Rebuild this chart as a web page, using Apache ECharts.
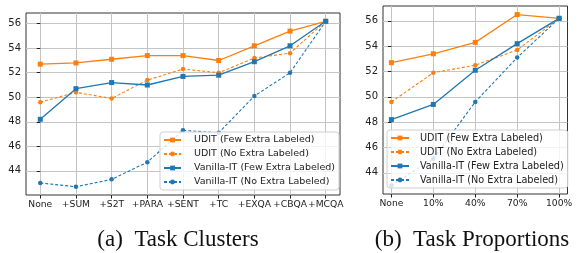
<!DOCTYPE html>
<html>
<head>
<meta charset="utf-8">
<script src="https://cdn.jsdelivr.net/npm/echarts@6/dist/echarts.min.js"></script>
<style>
  html, body { margin: 0; padding: 0; background: #fff; }
  #main { width: 580px; height: 253px; }
</style>
</head>
<body>
<div id="main"></div>
<script>
// (a) task clusters
const clusterCats = ['None', '+SUM', '+S2T', '+PARA', '+SENT', '+TC', '+EXQA', '+CBQA', '+MCQA']
const clusterUditFew = [52.7, 52.8, 53.1, 53.4, 53.4, 53.0, 54.2, 55.4, 56.2]
const clusterUditNo = [49.6, 50.4, 49.9, 51.4, 52.3, 52.0, 53.2, 53.6, 56.2]
const clusterVanillaFew = [48.2, 50.7, 51.2, 51.0, 51.7, 51.8, 52.9, 54.2, 56.2]
const clusterVanillaNo = [43.0, 42.7, 43.3, 44.7, 47.3, 47.1, 50.1, 52.0, 56.2]

// (b) task proportions
const propCats = ['None', '10%', '40%', '70%', '100%']
const propUditFew = [52.7, 53.4, 54.3, 56.5, 56.2]
const propUditNo = [49.6, 51.9, 52.5, 53.7, 56.2]
const propVanillaFew = [48.2, 49.4, 52.1, 54.2, 56.2]
const propVanillaNo = [43.0, 45.1, 49.6, 53.1, 56.2]

const yTicks = [44, 46, 48, 50, 52, 54, 56]
const names = ['UDIT (Few Extra Labeled)', 'UDIT (No Extra Labeled)', 'Vanilla-IT (Few Extra Labeled)', 'Vanilla-IT (No Extra Labeled)']

const ORANGE = '#ff7f0e'
const BLUE = '#1f77b4'
const tickFont = 'DejaVu Sans'

// matplotlib style 5% margins
function padExtent (lists) {
  let lo = Infinity
  let hi = -Infinity
  for (let l of lists) {
    for (let v of l) {
      lo = Math.min(lo, v)
      hi = Math.max(hi, v)
    }
  }
  let m = (hi - lo) * 0.05
  return [lo - m, hi + m]
}

function xAxis (idx, cats) {
  let ticks = cats.map((c, i) => i)
  let m = (cats.length - 1) * 0.05
  return {
    type: 'value',
    gridIndex: idx,
    min: -m,
    max: cats.length - 1 + m,
    axisLine: { show: false },
    axisTick: { show: true, inside: false, length: 3.5, customValues: ticks, lineStyle: { color: '#222', width: 1 } },
    axisLabel: {
      customValues: ticks,
      formatter: (v) => cats[Math.round(v)],
      fontFamily: tickFont,
      fontSize: 9.2,
      color: '#222',
      margin: 5,
      interval: 0,
      hideOverlap: false,
      showMinLabel: true,
      showMaxLabel: true
    },
    splitLine: { show: true, lineStyle: { color: '#c4c4c4', width: 1 } }
  }
}

function yAxis (idx, ext) {
  return {
    type: 'value',
    gridIndex: idx,
    min: ext[0],
    max: ext[1],
    axisLine: { show: false },
    axisTick: { show: true, inside: false, length: 3.5, customValues: yTicks, lineStyle: { color: '#222', width: 1 } },
    axisLabel: {
      customValues: yTicks,
      fontFamily: tickFont,
      fontSize: 10,
      color: '#222',
      margin: 5
    },
    splitLine: { show: true, lineStyle: { color: '#c4c4c4', width: 1 } }
  }
}

function line (name, idx, values, color, dashed) {
  return {
    name: name,
    type: 'line',
    xAxisIndex: idx,
    yAxisIndex: idx,
    data: values.map((v, i) => [i, v]),
    symbol: dashed ? 'circle' : 'rect',
    symbolSize: dashed ? 4.5 : 5,
    showSymbol: true,
    itemStyle: { color: color },
    lineStyle: { color: color, width: dashed ? 1.1 : 1.3, type: dashed ? [3, 2] : 'solid' },
    z: 3
  }
}

function legend (left, top, padText, fontSize, itemWidth) {
  return {
    orient: 'vertical',
    left: left,
    top: top,
    data: names,
    itemWidth: itemWidth,
    itemHeight: 6,
    itemGap: 2,
    padding: [2, 4, 2, 3],
    backgroundColor: 'rgba(255,255,255,0.8)',
    borderColor: '#cfcfcf',
    borderWidth: 1,
    borderRadius: 3,
    textStyle: {
      fontFamily: tickFont,
      fontSize: fontSize,
      color: '#222',
      lineHeight: 12,
      padding: [0, 0, 0, padText]
    },
    z: 10
  }
}

let chart = echarts.init(document.getElementById('main'), null, { renderer: 'canvas' })

let option = {
  animation: false,
  backgroundColor: '#fff',
  grid: [
    { left: 26, top: 13, width: 314, height: 182, show: true, borderColor: '#333', borderWidth: 1, containLabel: false },
    { left: 383, top: 6, width: 184.5, height: 188, show: true, borderColor: '#333', borderWidth: 1, containLabel: false }
  ],
  xAxis: [xAxis(0, clusterCats), xAxis(1, propCats)],
  yAxis: [
    yAxis(0, padExtent([clusterUditFew, clusterUditNo, clusterVanillaFew, clusterVanillaNo])),
    yAxis(1, padExtent([propUditFew, propUditNo, propVanillaFew, propVanillaNo]))
  ],
  legend: [
    legend(160, 132, 8, 9.5, 17),
    legend(387, 130, 6, 9.7, 18)
  ],
  series: [
    line(names[0], 0, clusterUditFew, ORANGE, false),
    line(names[1], 0, clusterUditNo, ORANGE, true),
    line(names[2], 0, clusterVanillaFew, BLUE, false),
    line(names[3], 0, clusterVanillaNo, BLUE, true),
    line(names[0], 1, propUditFew, ORANGE, false),
    line(names[1], 1, propUditNo, ORANGE, true),
    line(names[2], 1, propVanillaFew, BLUE, false),
    line(names[3], 1, propVanillaNo, BLUE, true)
  ],
  graphic: [
    {
      type: 'text',
      style: {
        x: 178,
        y: 240,
        text: '(a)  Task Clusters',
        align: 'center',
        verticalAlign: 'middle',
        font: '23px "Liberation Serif"',
        fill: '#111'
      }
    },
    {
      type: 'text',
      style: {
        x: 472,
        y: 240,
        text: '(b)  Task Proportions',
        align: 'center',
        verticalAlign: 'middle',
        font: '23px "Liberation Serif"',
        fill: '#111'
      }
    }
  ]
}

chart.setOption(option)
</script>
</body>
</html>
